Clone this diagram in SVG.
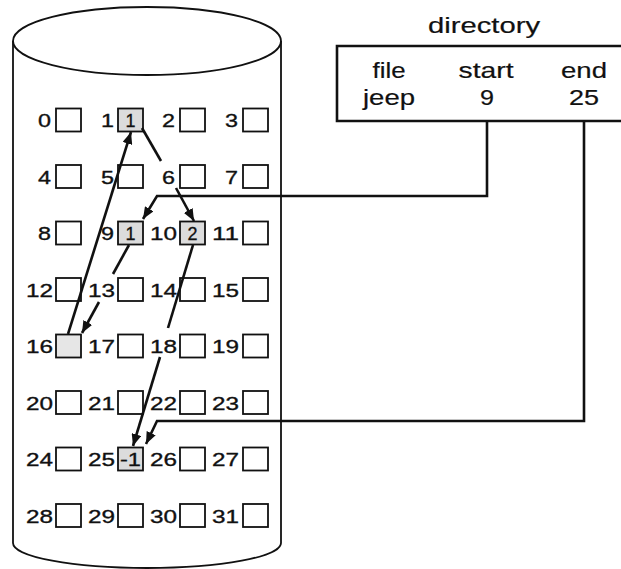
<svg xmlns="http://www.w3.org/2000/svg" width="621" height="569" viewBox="0 0 621 569">
<style>
text{font-family:"Liberation Sans",Arial,sans-serif;fill:#111}
.lb{font-size:19px;text-anchor:end;stroke:#111;stroke-width:0.35}
.in{font-size:18px;text-anchor:middle;stroke:#111;stroke-width:0.3}
.dt{font-size:22px;text-anchor:middle;stroke:#111;stroke-width:0.2}
.bx{fill:#fff;stroke:#111;stroke-width:1.8}
.gr{fill:#dcdcdc}
.cyl{fill:none;stroke:#111;stroke-width:1.8}
.cn{fill:none;stroke:#111;stroke-width:2.6}
</style>
<defs>
<marker id="ah" markerUnits="userSpaceOnUse" markerWidth="13" markerHeight="10" refX="12" refY="5" orient="auto">
<path d="M0,0 L12,5 L0,10 z" fill="#111"/>
</marker>
</defs>

<g id="disk">
<ellipse class="cyl" cx="147" cy="41" rx="134" ry="34"/>
<path class="cyl" d="M13,41 V543 A134,25 0 0 0 281,543 V41"/>
</g>

<g id="directory">
<text class="dt" x="484" y="33" textLength="112" lengthAdjust="spacingAndGlyphs">directory</text>
<path d="M625,46 H337 V121 H625" fill="none" stroke="#111" stroke-width="2.6"/>
<text class="dt" x="389" y="78" textLength="33" lengthAdjust="spacingAndGlyphs">file</text>
<text class="dt" x="486" y="78" textLength="55" lengthAdjust="spacingAndGlyphs">start</text>
<text class="dt" x="584" y="78" textLength="46" lengthAdjust="spacingAndGlyphs">end</text>
<text class="dt" x="389" y="105" textLength="52" lengthAdjust="spacingAndGlyphs">jeep</text>
<text class="dt" x="487" y="105" textLength="14" lengthAdjust="spacingAndGlyphs">9</text>
<text class="dt" x="584" y="105" textLength="30" lengthAdjust="spacingAndGlyphs">25</text>
</g>

<g id="block0"><rect class="bx" x="56" y="108.5" width="25" height="23"/><text class="lb" x="51" y="127" textLength="13" lengthAdjust="spacingAndGlyphs">0</text></g>
<g id="block1"><rect class="bx gr" x="118" y="108.5" width="25" height="23"/><text class="lb" x="114" y="127" textLength="13" lengthAdjust="spacingAndGlyphs">1</text><text class="in" x="130.5" y="126.5">1</text></g>
<g id="block2"><rect class="bx" x="180" y="108.5" width="25" height="23"/><text class="lb" x="175" y="127" textLength="13" lengthAdjust="spacingAndGlyphs">2</text></g>
<g id="block3"><rect class="bx" x="243" y="108.5" width="25" height="23"/><text class="lb" x="238" y="127" textLength="13" lengthAdjust="spacingAndGlyphs">3</text></g>

<g id="block4"><rect class="bx" x="56" y="165" width="25" height="23"/><text class="lb" x="51" y="183.5" textLength="13" lengthAdjust="spacingAndGlyphs">4</text></g>
<g id="block5"><rect class="bx" x="118" y="165" width="25" height="23"/><text class="lb" x="114" y="183.5" textLength="13" lengthAdjust="spacingAndGlyphs">5</text></g>
<g id="block6"><rect class="bx" x="180" y="165" width="25" height="23"/><text class="lb" x="175" y="183.5" textLength="13" lengthAdjust="spacingAndGlyphs">6</text></g>
<g id="block7"><rect class="bx" x="243" y="165" width="25" height="23"/><text class="lb" x="238" y="183.5" textLength="13" lengthAdjust="spacingAndGlyphs">7</text></g>

<g id="block8"><rect class="bx" x="56" y="221.5" width="25" height="23"/><text class="lb" x="51" y="240" textLength="13" lengthAdjust="spacingAndGlyphs">8</text></g>
<g id="block9"><rect class="bx gr" x="118" y="221.5" width="25" height="23"/><text class="lb" x="114" y="240" textLength="13" lengthAdjust="spacingAndGlyphs">9</text><text class="in" x="130.5" y="239.5">1</text></g>
<g id="block10"><rect class="bx gr" x="180" y="221.5" width="25" height="23"/><text class="lb" x="177" y="240" textLength="27" lengthAdjust="spacingAndGlyphs">10</text><text class="in" x="192.5" y="239.5">2</text></g>
<g id="block11"><rect class="bx" x="243" y="221.5" width="25" height="23"/><text class="lb" x="239" y="240" textLength="27" lengthAdjust="spacingAndGlyphs">11</text></g>

<g id="block12"><rect class="bx" x="56" y="278" width="25" height="23"/><text class="lb" x="53" y="296.5" textLength="27" lengthAdjust="spacingAndGlyphs">12</text></g>
<g id="block13"><rect class="bx" x="118" y="278" width="25" height="23"/><text class="lb" x="115" y="296.5" textLength="27" lengthAdjust="spacingAndGlyphs">13</text></g>
<g id="block14"><rect class="bx" x="180" y="278" width="25" height="23"/><text class="lb" x="177" y="296.5" textLength="27" lengthAdjust="spacingAndGlyphs">14</text></g>
<g id="block15"><rect class="bx" x="243" y="278" width="25" height="23"/><text class="lb" x="239" y="296.5" textLength="27" lengthAdjust="spacingAndGlyphs">15</text></g>

<g id="block16"><rect class="bx gr" x="56" y="334.5" width="25" height="23" style="fill:#e6e6e6"/><text class="lb" x="53" y="353" textLength="27" lengthAdjust="spacingAndGlyphs">16</text></g>
<g id="block17"><rect class="bx" x="118" y="334.5" width="25" height="23"/><text class="lb" x="115" y="353" textLength="27" lengthAdjust="spacingAndGlyphs">17</text></g>
<g id="block18"><rect class="bx" x="180" y="334.5" width="25" height="23"/><text class="lb" x="177" y="353" textLength="27" lengthAdjust="spacingAndGlyphs">18</text></g>
<g id="block19"><rect class="bx" x="243" y="334.5" width="25" height="23"/><text class="lb" x="239" y="353" textLength="27" lengthAdjust="spacingAndGlyphs">19</text></g>

<g id="block20"><rect class="bx" x="56" y="391" width="25" height="23"/><text class="lb" x="53" y="409.5" textLength="27" lengthAdjust="spacingAndGlyphs">20</text></g>
<g id="block21"><rect class="bx" x="118" y="391" width="25" height="23"/><text class="lb" x="115" y="409.5" textLength="27" lengthAdjust="spacingAndGlyphs">21</text></g>
<g id="block22"><rect class="bx" x="180" y="391" width="25" height="23"/><text class="lb" x="177" y="409.5" textLength="27" lengthAdjust="spacingAndGlyphs">22</text></g>
<g id="block23"><rect class="bx" x="243" y="391" width="25" height="23"/><text class="lb" x="239" y="409.5" textLength="27" lengthAdjust="spacingAndGlyphs">23</text></g>

<g id="block24"><rect class="bx" x="56" y="447.5" width="25" height="23"/><text class="lb" x="53" y="466" textLength="27" lengthAdjust="spacingAndGlyphs">24</text></g>
<g id="block25"><rect class="bx gr" x="118" y="447.5" width="25" height="23"/><text class="lb" x="115" y="466" textLength="27" lengthAdjust="spacingAndGlyphs">25</text><text class="in" x="130.5" y="465.5" textLength="21" lengthAdjust="spacingAndGlyphs">-1</text></g>
<g id="block26"><rect class="bx" x="180" y="447.5" width="25" height="23"/><text class="lb" x="177" y="466" textLength="27" lengthAdjust="spacingAndGlyphs">26</text></g>
<g id="block27"><rect class="bx" x="243" y="447.5" width="25" height="23"/><text class="lb" x="239" y="466" textLength="27" lengthAdjust="spacingAndGlyphs">27</text></g>

<g id="block28"><rect class="bx" x="56" y="504" width="25" height="23"/><text class="lb" x="53" y="522.5" textLength="27" lengthAdjust="spacingAndGlyphs">28</text></g>
<g id="block29"><rect class="bx" x="118" y="504" width="25" height="23"/><text class="lb" x="115" y="522.5" textLength="27" lengthAdjust="spacingAndGlyphs">29</text></g>
<g id="block30"><rect class="bx" x="180" y="504" width="25" height="23"/><text class="lb" x="177" y="522.5" textLength="27" lengthAdjust="spacingAndGlyphs">30</text></g>
<g id="block31"><rect class="bx" x="243" y="504" width="25" height="23"/><text class="lb" x="239" y="522.5" textLength="27" lengthAdjust="spacingAndGlyphs">31</text></g>

<g id="connectors">
<path class="cn" d="M487,121 V196 H157 L143,219" marker-end="url(#ah)"/>
<path class="cn" d="M584,121 V421 H157 L146,444" marker-end="url(#ah)"/>
<path class="cn" d="M129,245 L113,274"/>
<path class="cn" d="M99,302 L82,333" marker-end="url(#ah)"/>
<path class="cn" d="M68,334 L131,132" marker-end="url(#ah)"/>
<path class="cn" d="M142,128 L161,161"/>
<path class="cn" d="M176,188 L194,221" marker-end="url(#ah)"/>
<path class="cn" d="M193,245 L168,328"/>
<path class="cn" d="M160,357 L133,446" marker-end="url(#ah)"/>
</g>
</svg>
